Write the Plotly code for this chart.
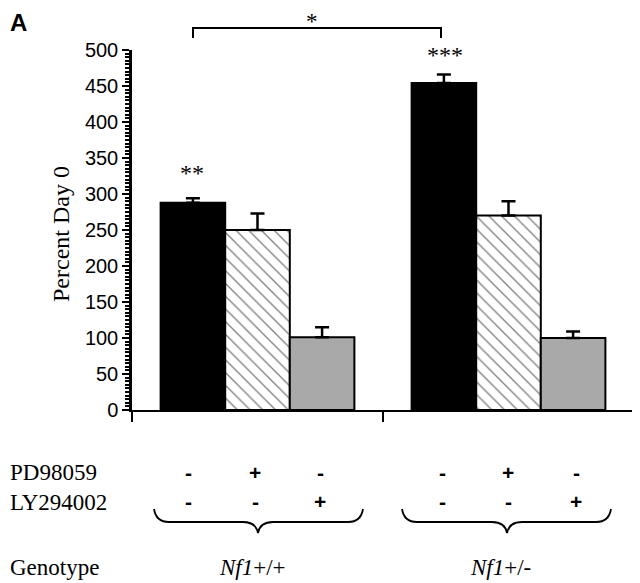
import plotly.graph_objects as go

# ---------------- data ----------------
genotypes = ["Nf1+/+", "Nf1+/-"]
treatments = ["Control", "PD98059", "LY294002"]
values = {
    "Control": [288, 454],
    "PD98059": [250, 270],
    "LY294002": [101, 100],
}
errors = {
    "Control": [6, 12],
    "PD98059": [23, 20],
    "LY294002": [14, 9],
}
pd_signs = ["-", "+", "-", "-", "+", "-"]
ly_signs = ["-", "-", "+", "-", "-", "+"]
genotype_labels = ["<i>Nf1</i>+/+", "<i>Nf1</i>+/-"]
y_ticks = list(range(0, 501, 50))

# ---------------- layout helpers ----------------
OFF = 8                      # default page margin of the html body
W, H = 640 - OFF, 583 - OFF
PLOT_L, PLOT_R, PLOT_T, PLOT_B = 132, 634, 50, 410   # page pixel coords
ML, MT = PLOT_L - OFF, PLOT_T - OFF
MR = W - (PLOT_R - OFF)
MB = H - (PLOT_B - OFF)
PW, PH = PLOT_R - PLOT_L, PLOT_B - PLOT_T


def px(x):
    return (x - PLOT_L) / PW


def py(y):
    return (PLOT_B - y) / PH


SERIF = "Liberation Serif, Times New Roman, serif"
SANS = "Liberation Sans, Arial, sans-serif"

styles = {
    "Control": dict(color="black"),
    "PD98059": dict(color="white",
                    pattern=dict(shape="\\", fgcolor="black", bgcolor="white",
                                 size=9, solidity=0.15)),
    "LY294002": dict(color="#a9a9a9"),
}

fig = go.Figure()
for t in treatments:
    m = dict(styles[t])
    m["line"] = dict(color="black", width=2)
    fig.add_trace(go.Bar(
        x=genotypes, y=values[t], name=t, marker=m,
        error_y=dict(type="data", symmetric=False, array=errors[t],
                     arrayminus=[0] * len(errors[t]), color="black",
                     thickness=2.5, width=7),
        showlegend=False,
    ))

annotations = []


def note(text, x, y, font, xanchor="center", yanchor="middle", **kw):
    annotations.append(dict(x=px(x), y=py(y), xref="paper", yref="paper",
                            text=text, showarrow=False, xanchor=xanchor,
                            yanchor=yanchor, font=font, **kw))


# panel letter (top of the figure)
note("<b>A</b>", OFF + 1, OFF, dict(family=SANS, size=24, color="black"),
     xanchor="left", yanchor="top", borderpad=0)
# y title
note("Percent Day 0", 61, 234, dict(family=SERIF, size=24, color="black"),
     textangle=-90)
# significance stars
note("*", 312, OFF, dict(family=SERIF, size=23, color="black"),
     yanchor="top", borderpad=0)
for txt, (sx, sy) in [("**", (192, 173)), ("***", (445, 55))]:
    note(txt, sx, sy, dict(family=SERIF, size=24, color="black"))
# row labels
for txt, ry in [("PD98059", 472), ("LY294002", 502), ("Genotype", 567)]:
    note(txt, 8, ry, dict(family=SERIF, size=23, color="black"), xanchor="left")
# +/- signs
col_x = [188, 255, 320, 442, 508, 576]
for cx, s1, s2 in zip(col_x, pd_signs, ly_signs):
    for s, ry in [(s1, 472), (s2, 501)]:
        note("<b>%s</b>" % s, cx, ry, dict(family=SANS, size=21, color="black"))
# genotype labels
for gx, g in zip([252, 500], genotype_labels):
    note(g, gx, 567, dict(family=SERIF, size=23, color="black"))

shapes = []


def brace(x0, xm, x1, ytop=509, ymid=522, ybot=533):
    pts = [
        f"M {px(x0)},{py(ytop)}",
        f"Q {px(x0 + 2)},{py(ymid)} {px(x0 + 15)},{py(ymid)}",
        f"L {px(xm - 15)},{py(ymid)}",
        f"Q {px(xm - 2)},{py(ymid)} {px(xm)},{py(ybot)}",
        f"Q {px(xm + 2)},{py(ymid)} {px(xm + 15)},{py(ymid)}",
        f"L {px(x1 - 15)},{py(ymid)}",
        f"Q {px(x1 - 2)},{py(ymid)} {px(x1)},{py(ytop)}",
    ]
    return dict(type="path", xref="paper", yref="paper", path=" ".join(pts),
                line=dict(color="black", width=1.8))


shapes.append(brace(154, 258, 363))
shapes.append(brace(402, 507, 611))
# comparison bracket
shapes.append(dict(type="path", xref="paper", yref="paper",
                   path=f"M {px(193)},{py(38)} L {px(193)},{py(28)} L {px(441)},{py(28)} L {px(441)},{py(38)}",
                   line=dict(color="black", width=2)))

fig.update_layout(
    width=W, height=H,
    margin=dict(l=ML, r=MR, t=MT, b=MB),
    paper_bgcolor="white", plot_bgcolor="white",
    barmode="group", bargap=0.228, bargroupgap=0,
    annotations=annotations, shapes=shapes,
    xaxis=dict(type="category", range=[-0.5, 1.5], showline=True,
               linecolor="black", linewidth=2, ticks="outside",
               tickson="boundaries", ticklen=10, tickwidth=2,
               tickcolor="black", showticklabels=False, showgrid=False,
               zeroline=False),
    yaxis=dict(range=[0, 500], tickvals=y_ticks, showline=True,
               linecolor="black", linewidth=2.5, ticks="outside",
               ticklen=7, tickwidth=2, tickcolor="black",
               minor=dict(dtick=5, ticks="outside", ticklen=4, tickwidth=1.5,
                          tickcolor="black", showgrid=False),
               showgrid=False, zeroline=False,
               tickfont=dict(family=SANS, size=20, color="black")),
)

fig.write_html("out.html")
